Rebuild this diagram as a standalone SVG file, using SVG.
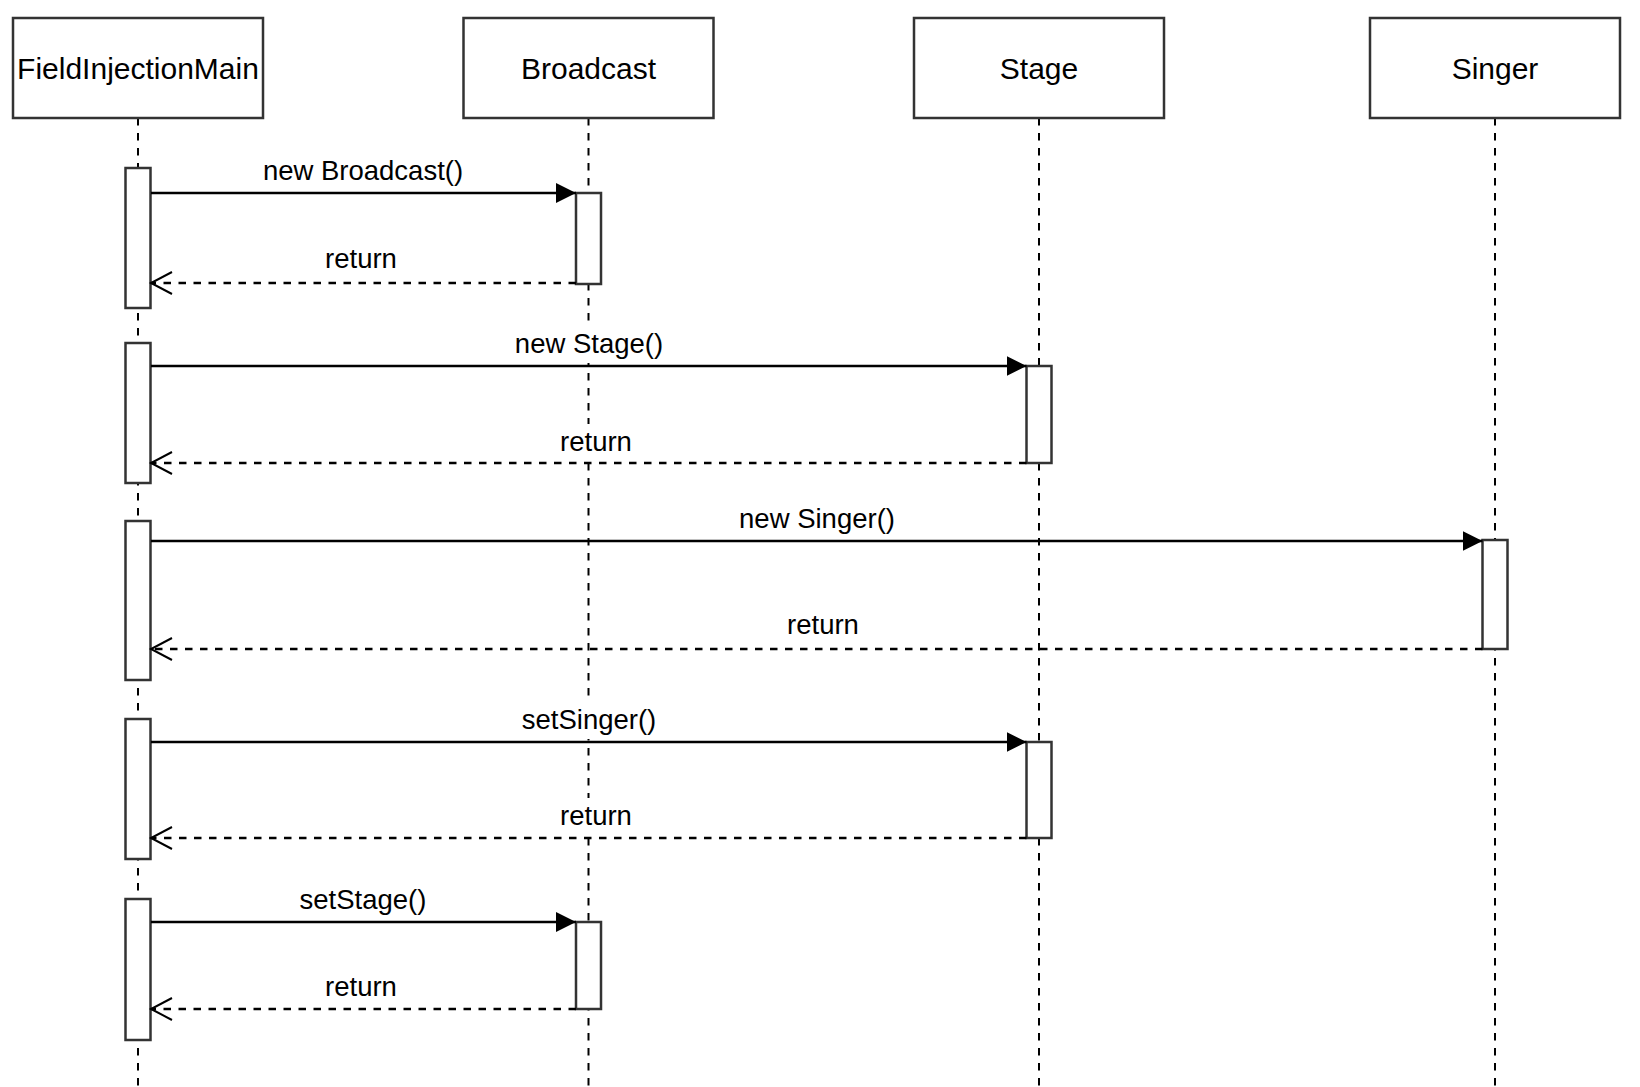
<svg xmlns="http://www.w3.org/2000/svg" width="1640" height="1087" viewBox="0 0 1640 1087">
<style>
.hdr{fill:#fff;stroke:#333;stroke-width:2.5}
.hdrt{font-family:"Liberation Sans",Arial,sans-serif;font-size:30px;fill:#000;text-anchor:middle}
.life{stroke:#000;stroke-width:2;stroke-dasharray:7.5 7.5;fill:none}
.act{fill:#fff;stroke:#333;stroke-width:2.5}
.msg{stroke:#000;stroke-width:2.5;fill:none;marker-end:url(#block)}
.ret{stroke:#000;stroke-width:2.5;fill:none;stroke-dasharray:7.5 7.5;marker-end:url(#open)}
.lbl{font-family:"Liberation Sans",Arial,sans-serif;font-size:27.5px;fill:#000;text-anchor:middle}
.lbg{fill:#fff;stroke:none}
</style>
<defs>
<marker id="block" markerUnits="userSpaceOnUse" markerWidth="22" markerHeight="22" refX="20" refY="10" orient="auto" viewBox="0 0 22 22">
<path d="M0,0 L20,10 L0,20 Z" fill="#000" stroke="none"/>
</marker>
<marker id="open" markerUnits="userSpaceOnUse" markerWidth="26" markerHeight="28" refX="22" refY="12" orient="auto" viewBox="0 0 26 28">
<path d="M1,1 L22,12 L1,23" fill="none" stroke="#000" stroke-width="2" stroke-dasharray="none"/>
</marker>
</defs>
<rect width="1640" height="1087" fill="#fff"/>

<g id="lifelines">
<line class="life" x1="138" y1="118" x2="138" y2="1087"/>
<line class="life" x1="588.5" y1="118" x2="588.5" y2="1087"/>
<line class="life" x1="1039" y1="118" x2="1039" y2="1087"/>
<line class="life" x1="1495" y1="118" x2="1495" y2="1087"/>
</g>

<g id="FieldInjectionMain">
<rect class="hdr" x="13" y="18" width="250" height="100"/>
<text class="hdrt" x="138" y="78.5">FieldInjectionMain</text>
</g>
<g id="Broadcast">
<rect class="hdr" x="463.5" y="18" width="250" height="100"/>
<text class="hdrt" x="588.5" y="78.5">Broadcast</text>
</g>
<g id="Stage">
<rect class="hdr" x="914" y="18" width="250" height="100"/>
<text class="hdrt" x="1039" y="78.5">Stage</text>
</g>
<g id="Singer">
<rect class="hdr" x="1370" y="18" width="250" height="100"/>
<text class="hdrt" x="1495" y="78.5">Singer</text>
</g>

<g id="activations">
<rect class="act" x="125.5" y="168" width="25" height="140"/>
<rect class="act" x="125.5" y="343" width="25" height="140"/>
<rect class="act" x="125.5" y="521" width="25" height="159"/>
<rect class="act" x="125.5" y="719" width="25" height="140"/>
<rect class="act" x="125.5" y="899" width="25" height="141"/>
<rect class="act" x="576" y="193" width="25" height="91"/>
<rect class="act" x="1026.5" y="366" width="25" height="97"/>
<rect class="act" x="1482.5" y="540" width="25" height="109"/>
<rect class="act" x="1026.5" y="742" width="25" height="96"/>
<rect class="act" x="576" y="922" width="25" height="87"/>
</g>

<g id="connectors">
<line class="msg" x1="151" y1="193" x2="576" y2="193"/>
<rect class="lbg" x="261" y="153" width="204" height="37"/>
<text class="lbl" x="363" y="180">new Broadcast()</text>
<line class="ret" x1="576" y1="283" x2="151" y2="283"/>
<rect class="lbg" x="323" y="241" width="76" height="37"/>
<text class="lbl" x="361" y="268">return</text>

<line class="msg" x1="151" y1="366" x2="1026.5" y2="366"/>
<rect class="lbg" x="513" y="326" width="152" height="37"/>
<text class="lbl" x="589" y="353">new Stage()</text>
<line class="ret" x1="1026.5" y1="463" x2="151" y2="463"/>
<rect class="lbg" x="558" y="424" width="76" height="37"/>
<text class="lbl" x="596" y="451">return</text>

<line class="msg" x1="151" y1="541" x2="1482.5" y2="541"/>
<rect class="lbg" x="737" y="501" width="160" height="37"/>
<text class="lbl" x="817" y="528">new Singer()</text>
<line class="ret" x1="1482.5" y1="649" x2="151" y2="649"/>
<rect class="lbg" x="785" y="607" width="76" height="37"/>
<text class="lbl" x="823" y="634">return</text>

<line class="msg" x1="151" y1="742" x2="1026.5" y2="742"/>
<rect class="lbg" x="520" y="702" width="138" height="37"/>
<text class="lbl" x="589" y="729">setSinger()</text>
<line class="ret" x1="1026.5" y1="838" x2="151" y2="838"/>
<rect class="lbg" x="558" y="798" width="76" height="37"/>
<text class="lbl" x="596" y="825">return</text>

<line class="msg" x1="151" y1="922" x2="576" y2="922"/>
<rect class="lbg" x="298" y="882" width="131" height="37"/>
<text class="lbl" x="363" y="909">setStage()</text>
<line class="ret" x1="576" y1="1009" x2="151" y2="1009"/>
<rect class="lbg" x="323" y="969" width="76" height="37"/>
<text class="lbl" x="361" y="996">return</text>
</g>
</svg>
